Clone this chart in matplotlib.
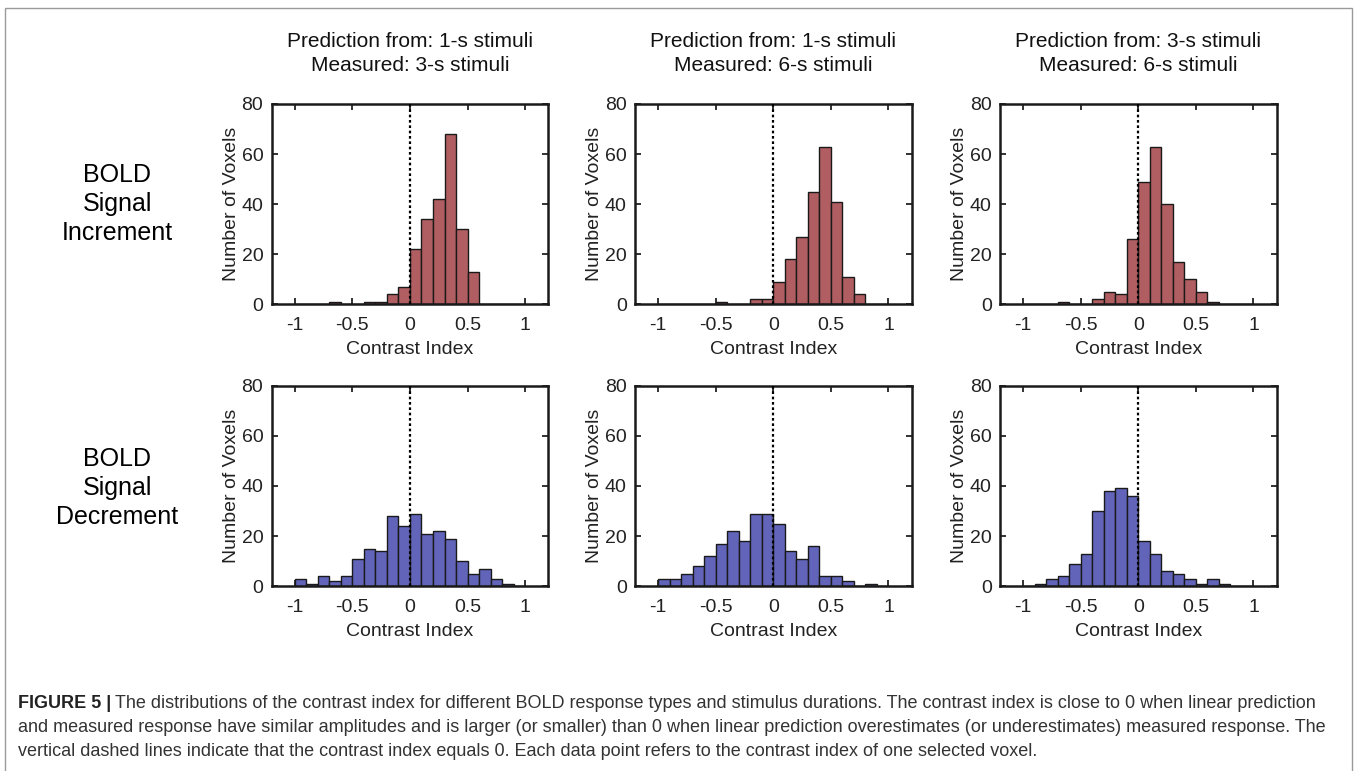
import numpy as np
import matplotlib
matplotlib.use("Agg")
import matplotlib.pyplot as plt
from matplotlib.patches import Rectangle

plt.rcParams['font.family'] = ['Liberation Sans', 'DejaVu Sans']

# histogram bins (left edges, width 0.1)
bin_left = [-1.0, -0.9, -0.8, -0.7, -0.6, -0.5, -0.4, -0.3, -0.2, -0.1,
            0.0, 0.1, 0.2, 0.3, 0.4, 0.5, 0.6, 0.7, 0.8, 0.9]
bin_width = 0.1

# BOLD signal increment voxels
inc_1to3 = [0, 0, 0, 1, 0, 0, 1, 1, 4, 7, 22, 34, 42, 68, 30, 13, 0, 0, 0, 0]
inc_1to6 = [0, 0, 0, 0, 0, 1, 0, 0, 2, 2, 9, 18, 27, 45, 63, 41, 11, 4, 0, 0]
inc_3to6 = [0, 0, 0, 1, 0, 0, 2, 5, 4, 26, 49, 63, 40, 17, 10, 5, 1, 0, 0, 0]

# BOLD signal decrement voxels
dec_1to3 = [3, 1, 4, 2, 4, 11, 15, 14, 28, 24, 29, 21, 22, 19, 10, 5, 7, 3, 1, 0]
dec_1to6 = [3, 3, 5, 8, 12, 17, 22, 18, 29, 29, 25, 14, 11, 16, 4, 4, 2, 0, 1, 0]
dec_3to6 = [0, 1, 3, 4, 9, 13, 30, 38, 39, 36, 18, 13, 6, 5, 3, 1, 3, 1, 0, 0]

col_titles = ["Prediction from: 1-s stimuli\nMeasured: 3-s stimuli",
              "Prediction from: 1-s stimuli\nMeasured: 6-s stimuli",
              "Prediction from: 3-s stimuli\nMeasured: 6-s stimuli"]
row_labels = ["BOLD\nSignal\nIncrement", "BOLD\nSignal\nDecrement"]
x_ticks = [-1, -0.5, 0, 0.5, 1]
x_ticklabels = ["-1", "-0.5", "0", "0.5", "1"]
y_ticks = [0, 20, 40, 60, 80]

caption_lines = [
    "The distributions of the contrast index for different BOLD response types and stimulus durations. The contrast index is close to 0 when linear prediction",
    "and measured response have similar amplitudes and is larger (or smaller) than 0 when linear prediction overestimates (or underestimates) measured response. The",
    "vertical dashed lines indicate that the contrast index equals 0. Each data point refers to the contrast index of one selected voxel.",
]

red = "#b15e62"
blue = "#6264ba"

W, H = 1357, 771
fig = plt.figure(figsize=(W / 100, H / 100), dpi=100)

# outer frame
fig.patches.append(Rectangle((5 / W, -0.01), 1347 / W, 1.01 - 8 / H,
                             transform=fig.transFigure, fill=False,
                             edgecolor="#9a9a9a", linewidth=1.0))

lefts = [271.7, 635, 1000]
tops = [104, 385.7]
aw, ah = 276.5, 200.5

data = [[inc_1to3, inc_1to6, inc_3to6], [dec_1to3, dec_1to6, dec_3to6]]
colors = [red, blue]

for r in range(2):
    for c in range(3):
        ax = fig.add_axes([lefts[c] / W, 1 - (tops[r] + ah) / H, aw / W, ah / H])
        counts = data[r][c]
        ax.bar(bin_left, counts, width=bin_width, align="edge",
               color=colors[r], edgecolor="#1a1a1a", linewidth=1.0, zorder=2)
        ax.plot([0, 0], [0, 80], color="black", linestyle=(0, (1.2, 1.2)),
                linewidth=1.6, zorder=3)
        ax.set_xlim(-1.2, 1.2)
        ax.set_ylim(0, 80)
        ax.set_xticks(x_ticks)
        ax.set_xticklabels(x_ticklabels)
        ax.set_yticks(y_ticks)
        ax.tick_params(direction="in", top=True, right=True, length=4,
                       width=1.3, labelsize=14, colors="#222222", pad=6)
        ax.tick_params(axis="x", pad=9)
        for s in ax.spines.values():
            s.set_linewidth(1.8)
            s.set_color("#1a1a1a")
        ax.set_xlabel("Contrast Index", fontsize=14, color="#222222", labelpad=5)
        ax.set_ylabel("Number of Voxels", fontsize=14, color="#222222", labelpad=1)
        if r == 0:
            ax.set_title(col_titles[c], fontsize=15, color="#111111",
                         linespacing=1.32, pad=24)

# row labels
fig.text(117 / W, 1 - 204 / H, row_labels[0], ha="center", va="center",
         fontsize=18, linespacing=1.27)
fig.text(117 / W, 1 - 488 / H, row_labels[1], ha="center", va="center",
         fontsize=18, linespacing=1.27)

# caption
cap_font = ['Liberation Sans Narrow', 'Liberation Sans', 'DejaVu Sans']
cap_y = [703, 728, 752]
cap_size = 13
b = fig.text(18 / W, 1 - cap_y[0] / H, "FIGURE 5 |", fontsize=cap_size,
             fontweight="bold", family=cap_font, va="center", color="#222222")
fig.canvas.draw()
ext = b.get_window_extent()
fig.text((ext.x1 + 4) / W, 1 - cap_y[0] / H, caption_lines[0], fontsize=cap_size,
         family=cap_font, va="center", color="#333333")
for line, y in zip(caption_lines[1:], cap_y[1:]):
    fig.text(18 / W, 1 - y / H, line, fontsize=cap_size, family=cap_font,
             va="center", color="#333333")

fig.savefig("out.png", dpi=100)
